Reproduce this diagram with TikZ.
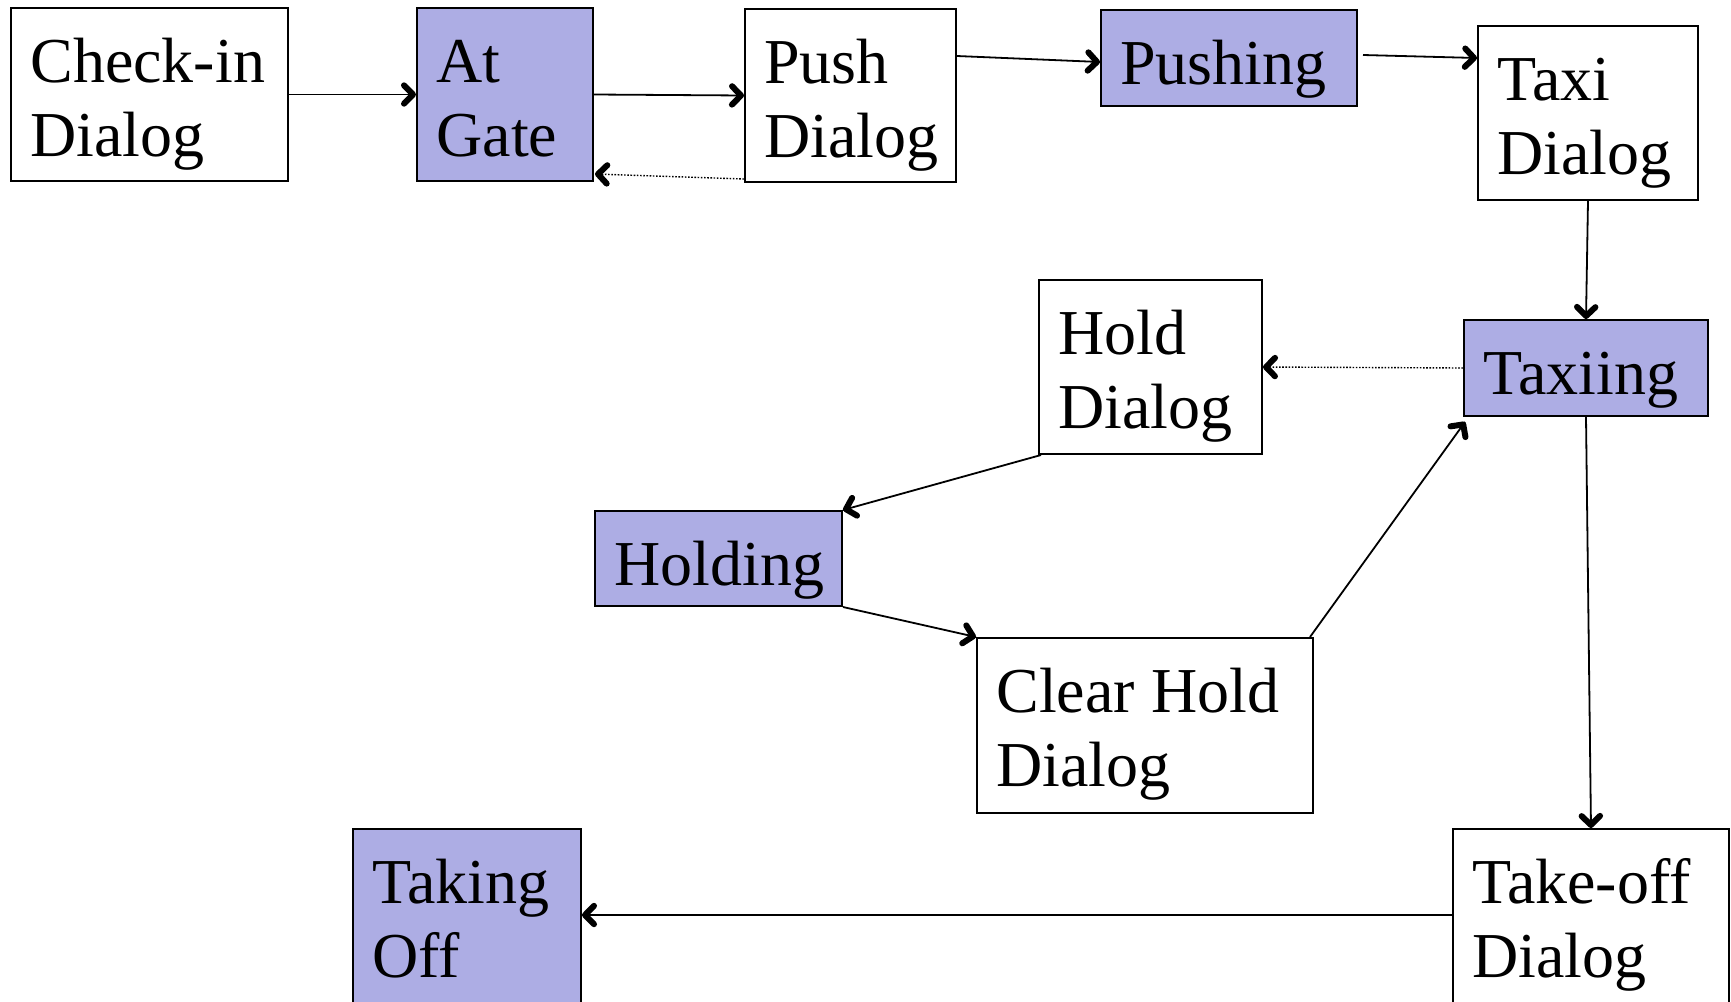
\documentclass[tikz,border=0pt]{standalone}
\usepackage{fontspec}
\setmainfont{Liberation Serif}
\usetikzlibrary{fit,decorations.markings}
\definecolor{stfill}{RGB}{173,173,228}
\begin{document}
\begin{tikzpicture}[x=0.5pt,y=-0.5pt,
  dlg/.style={draw=black, line width=1pt, fill=white, inner sep=0pt},
  st/.style={dlg, fill=stfill},
  txt/.style={inner sep=0pt, anchor=base west, font=\fontsize{32}{37}\selectfont},
  arr/.style={line width=0.9pt, postaction={decorate, decoration={markings,
      mark=at position 1 with {\draw[solid, line width=3pt, line cap=round, line join=round]
        (-6pt,4.6pt) -- (-1.5pt,0pt) -- (-6pt,-4.6pt);}}}},
  dotarr/.style={arr, line width=0.7pt, dash pattern=on 0.8pt off 0.8pt}]
\useasboundingbox (0,0) rectangle (1731,1002);
\clip (0,0) rectangle (1731,1002);
\fill[white] (0,0) rectangle (1731,1002);

% corner coordinates
\coordinate (a1) at (11,8);     \coordinate (a2) at (288,181);
\coordinate (b1) at (417,8);    \coordinate (b2) at (593,181);
\coordinate (c1) at (745,9);    \coordinate (c2) at (956,182);
\coordinate (d1) at (1101,10);  \coordinate (d2) at (1357,106);
\coordinate (e1) at (1478,26);  \coordinate (e2) at (1698,200);
\coordinate (f1) at (1039,280); \coordinate (f2) at (1262,454);
\coordinate (g1) at (1464,320); \coordinate (g2) at (1708,416);
\coordinate (h1) at (595,511);  \coordinate (h2) at (842,606);
\coordinate (i1) at (977,638);  \coordinate (i2) at (1313,813);
\coordinate (j1) at (353,829);  \coordinate (j2) at (581,1020);
\coordinate (k1) at (1453,829); \coordinate (k2) at (1729,1020);

\node[dlg, fit=(a1)(a2)] (checkin) {};
\node[st,  fit=(b1)(b2)] (atgate) {};
\node[dlg, fit=(c1)(c2)] (push) {};
\node[st,  fit=(d1)(d2)] (pushing) {};
\node[dlg, fit=(e1)(e2)] (taxi) {};
\node[dlg, fit=(f1)(f2)] (hold) {};
\node[st,  fit=(g1)(g2)] (taxiing) {};
\node[st,  fit=(h1)(h2)] (holding) {};
\node[dlg, fit=(i1)(i2)] (clear) {};
\node[st,  fit=(j1)(j2)] (takingoff) {};
\node[dlg, fit=(k1)(k2)] (takeoff) {};

\node[txt] (checkin-t) at ([xshift=10pt,yshift=-37.5pt]checkin.north west) {\vtop{\hbox{Check-in}\hbox{Dialog}}};
\node[txt] (atgate-t) at ([xshift=10pt,yshift=-37.5pt]atgate.north west) {\vtop{\hbox{At}\hbox{Gate}}};
\node[txt] (push-t) at ([xshift=10pt,yshift=-37.5pt]push.north west) {\vtop{\hbox{Push}\hbox{Dialog}}};
\node[txt] (pushing-t) at ([xshift=10pt,yshift=-37.5pt]pushing.north west) {Pushing};
\node[txt] (taxi-t) at ([xshift=10pt,yshift=-37.5pt]taxi.north west) {\vtop{\hbox{Taxi}\hbox{Dialog}}};
\node[txt] (hold-t) at ([xshift=10pt,yshift=-37.5pt]hold.north west) {\vtop{\hbox{Hold}\hbox{Dialog}}};
\node[txt] (taxiing-t) at ([xshift=10pt,yshift=-37.5pt]taxiing.north west) {Taxiing};
\node[txt] (holding-t) at ([xshift=10pt,yshift=-37.5pt]holding.north west) {Holding};
\node[txt] (clear-t) at ([xshift=10pt,yshift=-37.5pt]clear.north west) {\vtop{\hbox{Clear Hold}\hbox{Dialog}}};
\node[txt] (takingoff-t) at ([xshift=10pt,yshift=-37.5pt]takingoff.north west) {\vtop{\hbox{Taking}\hbox{Off}}};
\node[txt] (takeoff-t) at ([xshift=10pt,yshift=-37.5pt]takeoff.north west) {\vtop{\hbox{Take-off}\hbox{Dialog}}};

% connectors
\draw[arr] (checkin.east) -- (atgate.west);
\draw[arr] (atgate.east) -- (push.west);
\draw[dotarr] ([yshift=2pt]push.south west) -- ([xshift=0.5pt,yshift=4pt]atgate.south east);
\draw[arr] ([yshift=-24pt]push.north east) -- ([yshift=-2pt]pushing.west);
\draw[arr] ([xshift=2.5pt,yshift=1.5pt]pushing.east) -- ([yshift=-16.5pt]taxi.north west);
\draw[arr] (taxi.south) -- (taxiing.north);
\draw[dotarr] (taxiing.west) -- (hold.east);
\draw[arr] ([xshift=1.5pt]hold.south west) -- (holding.north east);
\draw[arr] (holding.south east) -- (clear.north west);
\draw[arr] ([xshift=-2pt]clear.north east) -- ([xshift=1pt,yshift=-2.5pt]taxiing.south west);
\draw[arr] (taxiing.south) -- (takeoff.north);
\draw[arr] ([yshift=-43.5pt]takeoff.north west) -- ([yshift=-43.5pt]takingoff.north east);
\end{tikzpicture}
\end{document}
